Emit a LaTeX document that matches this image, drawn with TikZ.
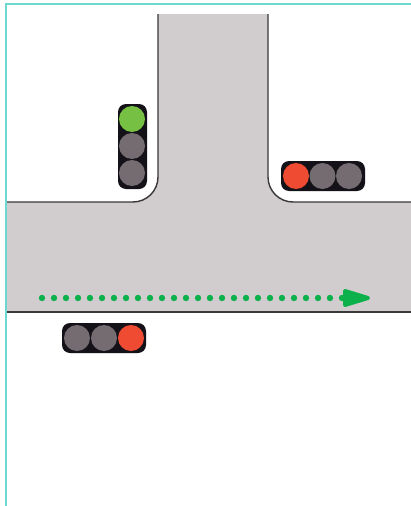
\documentclass[tikz,border=0pt]{standalone}
\definecolor{roadfill}{HTML}{D1CDCE}
\definecolor{roadline}{HTML}{3A383A}
\definecolor{frameline}{HTML}{6FD8CE}
\definecolor{lamp}{HTML}{746C70}
\definecolor{lampgreen}{HTML}{76C043}
\definecolor{lampred}{HTML}{EF4B32}
\definecolor{housing}{HTML}{141218}
\definecolor{route}{HTML}{0DB14B}
\tikzset{
  x=1pt,y=-1pt,
  edge/.style={draw=roadline,line width=1.4pt},
  casing/.style={fill=housing,rounded corners=8pt},
  lampoff/.style={circle,fill=lamp,minimum size=26pt,inner sep=0pt},
  lampgo/.style={lampoff,fill=lampgreen},
  lampstop/.style={lampoff,fill=lampred},
  routedot/.style={circle,fill=route,minimum size=6.4pt,inner sep=0pt},
}
\begin{document}
\begin{tikzpicture}
\useasboundingbox (0,0) rectangle (411,506);
\fill[white] (0,0) rectangle (411,506);
% frame
\draw[frameline,line width=1.8pt] (6,506) -- (6,4) -- (411,4);
% road
\fill[roadfill] (158,14) -- (158,177) arc[start angle=0,end angle=90,radius=25] -- (7,202) -- (7,312) -- (411,312) -- (411,202) -- (293,202) arc[start angle=90,end angle=180,radius=25] -- (268,14) -- cycle;
\draw[edge] (158,14) -- (158,177) arc[start angle=0,end angle=90,radius=25] -- (7,202);
\draw[edge] (268,14) -- (268,177) arc[start angle=180,end angle=90,radius=25] -- (411,202);
\draw[edge] (7,312) -- (411,312);
% lights
\fill[casing] (118,104) rectangle (147,189);
\node[lampgo] (a1) at (132,119) {};
\node[lampoff] (a2) at (132,146) {};
\node[lampoff] (a3) at (132,173) {};
\fill[casing] (281,161) rectangle (365,191);
\node[lampstop] (b1) at (296,176) {};
\node[lampoff] (b2) at (322.5,176) {};
\node[lampoff] (b3) at (349,176) {};
\fill[casing] (62,323) rectangle (146,353);
\node[lampoff] (c1) at (77,338) {};
\node[lampoff] (c2) at (104,338) {};
\node[lampstop] (c3) at (131,338) {};
% route
\foreach \i in {0,...,25} \node[routedot] at ({42+12*\i},298) {};
\fill[route,draw=route,line width=4pt,line join=round] (345,291) -- (368,298) -- (345,305) -- cycle;
\end{tikzpicture}
\end{document}
